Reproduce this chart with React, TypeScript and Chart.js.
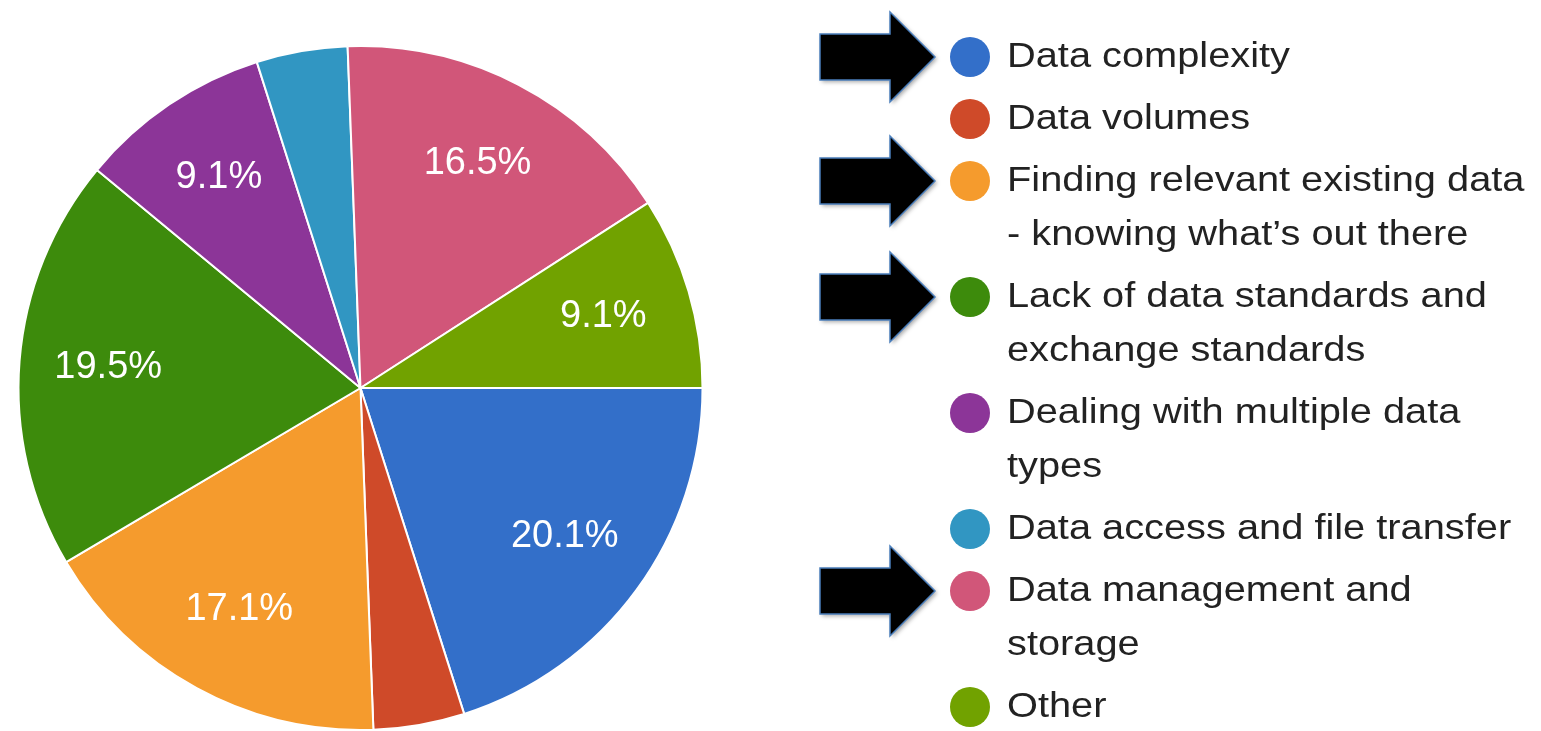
import React, { useEffect, useRef } from "react";
import { Chart, registerables } from "chart.js";

Chart.register(...registerables);

const categories = [
  "Data complexity",
  "Data volumes",
  "Finding relevant existing data - knowing what’s out there",
  "Lack of data standards and exchange standards",
  "Dealing with multiple data types",
  "Data access and file transfer",
  "Data management and storage",
  "Other",
];
const shares = [20.1, 4.3, 17.1, 19.5, 9.1, 4.3, 16.5, 9.1];
const sliceColors = [
  "#336FC9",
  "#CF4A29",
  "#F59B2D",
  "#3D8B0C",
  "#8C3598",
  "#3196C2",
  "#D15679",
  "#71A200",
];
const arrowed = [true, false, true, true, false, false, true, false];

const FONT = "'Liberation Sans', Arial, sans-serif";

function wrapText(ctx: CanvasRenderingContext2D, text: string, maxW: number, sx: number): string[] {
  const words = text.split(" ");
  const lines: string[] = [];
  let line = "";
  for (const w of words) {
    const test = line ? line + " " + w : w;
    if (line && ctx.measureText(test).width * sx > maxW) {
      lines.push(line);
      line = w;
    } else {
      line = test;
    }
  }
  if (line) lines.push(line);
  return lines;
}

const sliceLabelPlugin = {
  id: "sliceLabels",
  afterDatasetsDraw(chart: any) {
    const ctx = chart.ctx as CanvasRenderingContext2D;
    const meta = chart.getDatasetMeta(0);
    const data = chart.data.datasets[0].data as number[];
    const total = data.reduce((a, b) => a + b, 0);
    ctx.save();
    ctx.fillStyle = "#ffffff";
    ctx.font = `38px ${FONT}`;
    ctx.textAlign = "center";
    ctx.textBaseline = "alphabetic";
    meta.data.forEach((arc: any, i: number) => {
      const pct = (data[i] / total) * 100;
      if (pct < 5) return;
      const p = arc.getProps(["x", "y", "startAngle", "endAngle", "outerRadius"], true);
      const mid = (p.startAngle + p.endAngle) / 2;
      const r = p.outerRadius * 0.74;
      const x = p.x + Math.cos(mid) * r;
      const y = p.y + Math.sin(mid) * r;
      ctx.fillText(pct.toFixed(1) + "%", x, y + 10);
    });
    ctx.restore();
  },
};

const legendPlugin = {
  id: "sideLegend",
  afterDraw(chart: any) {
    const ctx = chart.ctx as CanvasRenderingContext2D;
    const labels = chart.data.labels as string[];
    const colors = chart.data.datasets[0].backgroundColor as string[];
    ctx.save();
    ctx.font = `35px ${FONT}`;
    const sx = 283 / ctx.measureText("Data complexity").width;
    const textX = 1007;
    const dotX = 970;
    let y = 57;
    labels.forEach((label, i) => {
      if (i > 0) y += 62;
      const lines = wrapText(ctx, label, 530, sx);
      if (arrowed[i]) {
        ctx.save();
        ctx.beginPath();
        ctx.moveTo(820, y - 23);
        ctx.lineTo(890, y - 23);
        ctx.lineTo(890, y - 45);
        ctx.lineTo(935, y);
        ctx.lineTo(890, y + 45);
        ctx.lineTo(890, y + 23);
        ctx.lineTo(820, y + 23);
        ctx.closePath();
        ctx.shadowColor = "rgba(0,0,0,0.35)";
        ctx.shadowBlur = 4;
        ctx.shadowOffsetX = 2;
        ctx.shadowOffsetY = 2;
        ctx.fillStyle = "#000000";
        ctx.fill();
        ctx.shadowColor = "transparent";
        ctx.strokeStyle = "#4A7EBB";
        ctx.lineWidth = 1.5;
        ctx.stroke();
        ctx.restore();
      }
      ctx.beginPath();
      ctx.arc(dotX, y, 20, 0, Math.PI * 2);
      ctx.fillStyle = colors[i];
      ctx.fill();
      ctx.fillStyle = "#222222";
      ctx.textAlign = "left";
      ctx.textBaseline = "alphabetic";
      lines.forEach((ln, j) => {
        if (j > 0) y += 54;
        ctx.save();
        ctx.translate(textX, y + 10);
        ctx.scale(sx, 1);
        ctx.fillText(ln, 0, 0);
        ctx.restore();
      });
    });
    ctx.restore();
  },
};

export default function App() {
  const canvasRef = useRef<HTMLCanvasElement | null>(null);

  useEffect(() => {
    if (!canvasRef.current) return;
    const chart = new Chart(canvasRef.current, {
      type: "pie",
      data: {
        labels: categories,
        datasets: [
          {
            data: shares,
            backgroundColor: sliceColors,
            borderColor: "#ffffff",
            borderWidth: 2,
          },
        ],
      },
      options: {
        responsive: false,
        animation: false,
        rotation: 90,
        layout: { padding: { left: 17.5, right: 837.5, top: 45, bottom: 0 } },
        plugins: {
          legend: { display: false },
          tooltip: { enabled: false },
        },
      },
      plugins: [sliceLabelPlugin, legendPlugin],
    });
    return () => chart.destroy();
  }, []);

  return (
    <div style={{ position: "fixed", left: 0, top: 0, width: 1541, height: 731, background: "#ffffff" }}>
      <canvas ref={canvasRef} width={1541} height={731} style={{ display: "block" }} />
    </div>
  );
}
